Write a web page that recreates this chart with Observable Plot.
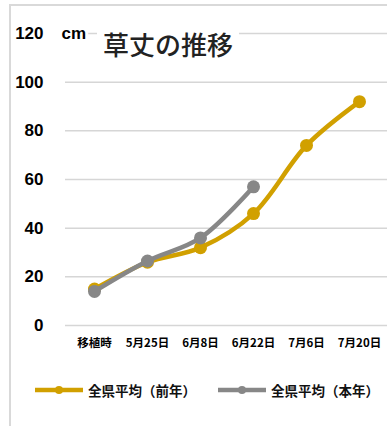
<!DOCTYPE html>
<html>
<head>
<meta charset="utf-8">
<script src="https://cdn.jsdelivr.net/npm/d3@7"></script>
<script src="https://cdn.jsdelivr.net/npm/@observablehq/plot@0.6"></script>
<style>
  html, body { margin: 0; padding: 0; background: #fff; }
  #wrap { position: relative; width: 387px; height: 426px; overflow: hidden; font-family: "Noto Sans CJK JP", sans-serif; }
  #border { position: absolute; left: 9px; top: 4px; width: 400px; height: 440px; border: 2px solid #d9d9d9; box-sizing: border-box; }
  #chart { position: absolute; left: 0; top: 0; }
  #title { position: absolute; left: 97px; top: 27px; padding: 0 6px; background: #fff; font-size: 26px; line-height: 34px; font-weight: 500; color: #222; white-space: nowrap; }
  #legend { position: absolute; left: 35px; top: 380px; display: flex; gap: 22px; font-size: 13.5px; font-weight: 700; color: #111; white-space: nowrap; }
  #legend .item { display: flex; align-items: center; gap: 5px; }
</style>
</head>
<body>
<div id="wrap">
  <div id="border"></div>
  <div id="chart"></div>
  <div id="title">草丈の推移</div>
  <div id="legend"></div>
</div>
<script>
// Survey dates and plant height (cm), prefecture-wide averages
const dates = ["移植時", "5月25日", "6月8日", "6月22日", "7月6日", "7月20日"];
const prevYear = [15, 26, 32, 46, 74, 92];
const thisYear = [14, 26.5, 36, 57];
const yTicks = [0, 20, 40, 60, 80, 100, 120];

const seriesNames = ["全県平均（前年）", "全県平均（本年）"];
const colors = ["#d1a000", "#878787"];

const prevData = prevYear.map((v, i) => ({date: dates[i], value: v}));
const thisData = thisYear.map((v, i) => ({date: dates[i], value: v}));

const chart = Plot.plot({
  width: 387,
  height: 360,
  marginLeft: 65,
  marginRight: 0,
  marginTop: 33,
  marginBottom: 35,
  style: {color: "#000", background: "transparent", fontFamily: "'Liberation Sans', Arial, sans-serif"},
  x: {type: "point", domain: dates, padding: 0.5},
  y: {domain: [0, 120]},
  marks: [
    Plot.ruleY(yTicks, {stroke: "#d6d6d6", strokeWidth: 1.5}),
    Plot.axisY({ticks: yTicks, tickSize: 0, tickPadding: 22, fontSize: 17, fontWeight: "bold", label: null}),
    Plot.axisX({tickSize: 0, tickPadding: 13, fontSize: 11.5, fontWeight: "bold", label: null,
      fontFamily: "'Noto Sans CJK JP', sans-serif"}),
    Plot.text(["cm"], {y: 120, frameAnchor: "left", textAnchor: "start", dx: -4, fontSize: 17, fontWeight: "bold",
      fill: "#000", stroke: "#fff", strokeWidth: 6, paintOrder: "stroke"}),
    Plot.line(prevData, {x: "date", y: "value", stroke: colors[0], strokeWidth: 4.5, curve: "catmull-rom"}),
    Plot.dot(prevData, {x: "date", y: "value", r: 6.5, fill: colors[0]}),
    Plot.line(thisData, {x: "date", y: "value", stroke: colors[1], strokeWidth: 4.5, curve: "catmull-rom"}),
    Plot.dot(thisData, {x: "date", y: "value", r: 6.5, fill: colors[1]})
  ]
});
document.getElementById("chart").append(chart);

// Legend: line-with-marker swatch followed by the series name
const legend = document.getElementById("legend");
seriesNames.forEach((name, i) => {
  const item = document.createElement("div");
  item.className = "item";
  item.innerHTML = `<svg width="48" height="12"><line x1="0" y1="6" x2="48" y2="6" stroke="${colors[i]}" stroke-width="4.5"/><circle cx="24" cy="6" r="4" fill="${colors[i]}"/></svg><span>${name}</span>`;
  legend.append(item);
});
</script>
</body>
</html>
